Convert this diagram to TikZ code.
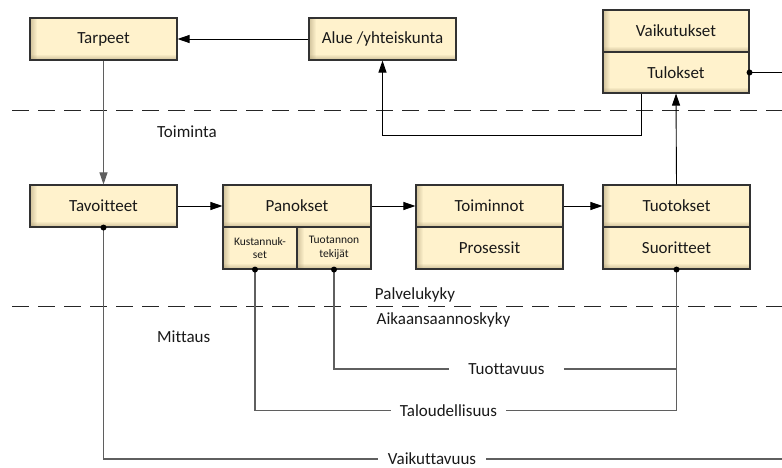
\documentclass[tikz,border=0pt]{standalone}
\usepackage{fontspec}
\setmainfont{Carlito}[Ligatures=NoCommon]
\usetikzlibrary{arrows.meta}
\definecolor{boxfill}{RGB}{255,242,204}
\definecolor{boxedge}{RGB}{170,155,115}
\definecolor{boxline}{RGB}{50,50,50}
\definecolor{mgray}{RGB}{95,95,95}
\definecolor{txt}{RGB}{25,25,25}
\begin{document}
\begin{tikzpicture}[x=1pt,y=-1pt,
  box/.style={draw=boxline, line width=1.1pt, fill=boxfill, inner sep=0pt,
    minimum width=147pt, minimum height=42pt, text=txt,
    font=\fontsize{17}{20}\selectfont,
    path picture={
      % soft bevel: darker band fading in from the left and bottom edges
      \foreach \i in {0,...,6}{
        \fill[boxedge, opacity={0.55*(1-\i/7)}]
          ([xshift=\i*1pt]path picture bounding box.south west) rectangle
          ([xshift=\i*1pt+1pt]path picture bounding box.north west);
      }
      \foreach \i in {0,...,4}{
        \fill[boxedge, opacity={0.5*(1-\i/5)}]
          ([yshift=\i*1pt]path picture bounding box.south west) rectangle
          ([yshift=\i*1pt+1pt]path picture bounding box.south east);
      }
    }},
  sbox/.style={box, minimum width=74pt, align=center,
    font=\fontsize{11.5}{13.5}\selectfont},
  ar/.style={-{Triangle[length=12pt,width=8pt]}, line width=0.9pt, draw=black},
  conn/.style={line width=0.9pt, draw=black},
  mline/.style={line width=1.2pt, draw=mgray},
  sepline/.style={dash pattern=on 17pt off 9pt, line width=0.9pt, draw=black!85},
  lbl/.style={font=\fontsize{17}{20}\selectfont, text=txt, inner ysep=0pt}
]
\useasboundingbox (0,0) rectangle (782,468);

% level separators
\draw[sepline] (12,110) -- (782,110);
\draw[sepline] (12,306) -- (782,306);

% top row
\node[box] (tarpeet) at (103.5,39) {Tarpeet};
\node[box] (alue) at (382.5,39) {Alue /yhteiskunta};
\node[box, minimum width=146pt] (vaik) at (676,31) {Vaikutukset};
\node[box, minimum width=146pt, minimum height=41pt] (tul) at (676,72.5) {Tulokset};

% middle row
\node[box] (tav) at (103.5,206) {Tavoitteet};
\node[box, minimum width=148pt] (pan) at (297,206) {Panokset};
\node[sbox] (kust) at (260,248) {Kustannuk-\\set};
\node[sbox] (tek) at (334,248) {Tuotannon\\tekijät};
\node[box] (toim) at (489.5,206) {Toiminnot};
\node[box] (pros) at (489.5,248) {Prosessit};
\node[box] (tuotok) at (676.5,206) {Tuotokset};
\node[box] (suor) at (676.5,248) {Suoritteet};

% free labels
\node[lbl, anchor=west, inner xsep=0pt] (toiminta) at (157,132) {Toiminta};
\node[lbl, anchor=west, inner xsep=0pt] (mittaus) at (157,337) {Mittaus};
\node[lbl, inner xsep=0pt] (palvelu) at (415,295) {Palvelukyky};
\node[lbl, inner xsep=0pt] (aikaan) at (443.5,320) {Aikaansaannoskyky};

% measure labels
\node[lbl, inner xsep=19pt] (tuott) at (506.5,369) {Tuottavuus};
\node[lbl, inner xsep=9pt] (talo) at (448.5,410.5) {Taloudellisuus};
\node[lbl, inner xsep=10pt] (vaikutt) at (432,459) {Vaikuttavuus};

% main flow
\draw[ar] (alue.west) -- (tarpeet.east);
\draw[ar, draw=mgray, fill=black] (tarpeet.south) -- (tav.north);
\draw[ar] (tav.east) -- (pan.west);
\draw[ar] (pan.east) -- (toim.west);
\draw[ar] (toim.east) -- (tuotok.west);
\draw[ar] (tuotok.north) -- (tul.south);
\draw[ar] ([xshift=-35pt]tul.south) -- ++(0,42) -| (alue.south);

% outgoing line from Tulokset
\coordinate (tend) at (782,72.5);
\draw[conn] (tul.east) -- (tend);
\fill (tul.east) circle (3pt);

% measurement lines
\coordinate (kd) at ([xshift=-5pt]kust.south);
\coordinate (rc) at (suor.south |- talo.east);
\coordinate (vend) at (782,459);
\draw[mline] (tav.south) |- (vaikutt.west);
\draw[mline] (vaikutt.east) -- (vend);
\draw[mline] (kd) |- (talo.west);
\draw[mline] (talo.east) -- (rc);
\draw[mline] (suor.south) -- (rc);
\draw[mline] (tek.south) |- (tuott.west);
\draw[mline] (tuott.east) -- (tuott.east -| rc);

\fill (tav.south) circle (3pt);
\fill (kd) circle (3pt);
\fill (tek.south) circle (3pt);
\fill (suor.south) circle (3pt);
\end{tikzpicture}
\end{document}
